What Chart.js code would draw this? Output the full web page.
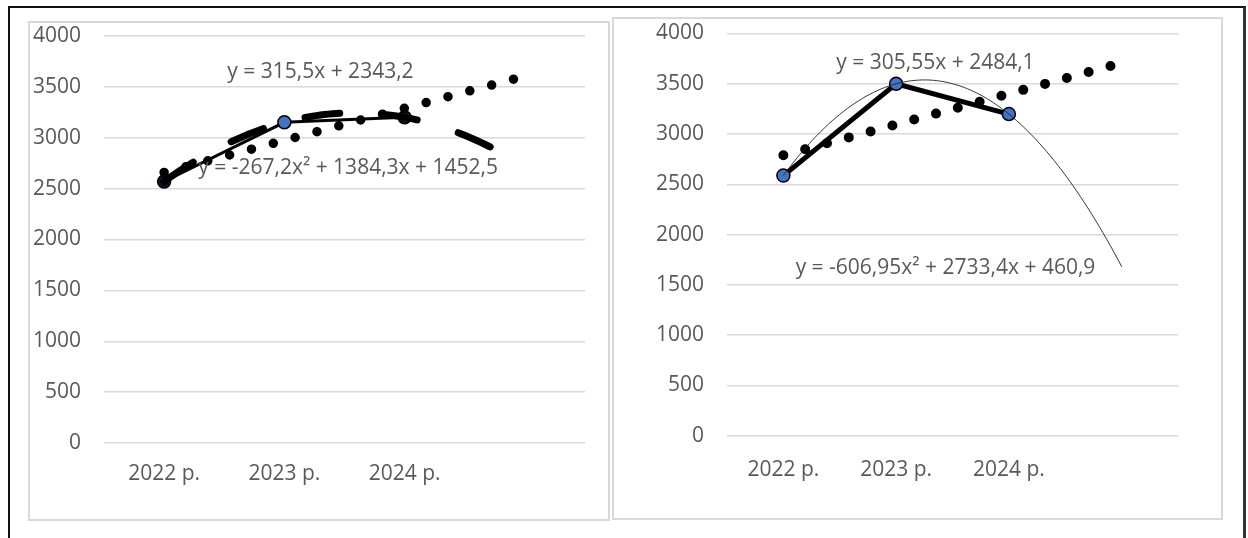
<!DOCTYPE html>
<html>
<head>
<meta charset="utf-8">
<script src="https://cdn.jsdelivr.net/npm/chart.js@4/dist/chart.umd.min.js"></script>
<style>
html,body{margin:0;padding:0;background:#fff;width:1248px;height:538px;overflow:hidden;}
#outer{position:absolute;left:8px;top:6px;width:1238px;height:560px;border-left:2px solid #111;border-top:2px solid #111;border-right:3px solid #333;box-sizing:border-box;}
.frame{position:absolute;border:2px solid #d9d9d9;box-sizing:border-box;}
canvas{position:absolute;}
</style>
</head>
<body>
<div id="outer"></div>
<div class="frame" style="left:28px;top:21px;width:582px;height:500px"></div>
<div class="frame" style="left:612px;top:17px;width:611px;height:503px"></div>
<canvas id="c1" width="580" height="498" style="left:29px;top:22px"></canvas>
<canvas id="c2" width="609" height="501" style="left:613px;top:18px"></canvas>
<script>
// ---- data ----
const categories = ['2022 р.', '2023 р.', '2024 р.'];
const yTicks = [0, 500, 1000, 1500, 2000, 2500, 3000, 3500, 4000];

const leftValues  = [2570, 3152, 3201];
const rightValues = [2587, 3500, 3199];

// trendline coefficients, as printed on the charts
const leftLinear  = [315.5, 2343.2];            // slope, intercept
const leftQuad    = [-267.2, 1384.3, 1452.5];   // a, b, c
const rightLinear = [305.55, 2484.1];
const rightQuad   = [-606.95, 2733.4, 460.9];

const leftLinearText  = 'y = 315,5x + 2343,2';
const leftQuadText    = 'y = -267,2x² + 1384,3x + 1452,5';
const rightLinearText = 'y = 305,55x + 2484,1';
const rightQuadText   = 'y = -606,95x² + 2733,4x + 460,9';

const forecastTo = 4;   // trendlines forecast one period forward

// ---- helpers ----
function poly(coefs, x) { return coefs.reduce((acc, c) => acc * x + c, 0); }
function trendPoints(coefs, from, to, n) {
  const pts = [];
  for (let i = 0; i <= n; i++) {
    const x = from + (to - from) * i / n;
    pts.push({ x: x, y: poly(coefs, x) });
  }
  return pts;
}
function seriesPoints(values) { return values.map((v, i) => ({ x: i + 1, y: v })); }

Chart.defaults.font.family = "'Open Sans', sans-serif";
Chart.defaults.color = '#595959';

const labelPlugin = {
  id: 'eqLabels',
  afterDatasetsDraw(chart, args, opts) {
    const ctx = chart.ctx, xs = chart.scales.x, ys = chart.scales.y;
    ctx.save();
    ctx.font = "21px 'Open Sans', sans-serif";
    ctx.fillStyle = '#595959';
    ctx.textAlign = 'center';
    ctx.textBaseline = 'middle';
    (opts.items || []).forEach(it => {
      ctx.fillText(it.text, xs.getPixelForValue(it.x), ys.getPixelForValue(it.y));
    });
    ctx.restore();
  }
};

function makeChart(id, cfg) {
  return new Chart(document.getElementById(id), {
    type: 'line',
    data: {
      datasets: [
        {
          label: 'quad',
          data: trendPoints(cfg.quad, 1, forecastTo, 90),
          borderColor: cfg.quadColor,
          borderWidth: cfg.quadWidth,
          borderDash: cfg.quadDash,
          borderCapStyle: 'round',
          pointRadius: 0,
          tension: 0,
          order: 0
        },
        {
          label: 'linear',
          data: trendPoints(cfg.linear, 1, forecastTo, 1),
          borderColor: '#000',
          borderWidth: cfg.dotSize,
          borderDash: [0, 22.6],
          borderCapStyle: 'round',
          pointRadius: 0,
          order: 1
        },
        {
          label: 'values',
          data: seriesPoints(cfg.values),
          borderColor: '#000',
          borderWidth: cfg.mainWidth,
          pointRadius: 6.5,
          pointBorderWidth: 1.5,
          pointBorderColor: '#000',
          pointBackgroundColor: cfg.pointColors,
          tension: 0,
          order: 2
        }
      ]
    },
    options: {
      responsive: false,
      animation: false,
      devicePixelRatio: 1,
      layout: { padding: cfg.padding },
      plugins: {
        legend: { display: false },
        tooltip: { enabled: false },
        eqLabels: { items: cfg.labels }
      },
      scales: {
        x: {
          type: 'linear', min: 0.5, max: 4.5,
          grid: { display: false }, border: { display: false },
          afterBuildTicks: s => { s.ticks = categories.map((c, i) => ({ value: i + 1 })); },
          ticks: {
            callback: v => categories[v - 1] || '',
            font: { size: 21 }, color: '#595959',
            padding: cfg.xPad, maxRotation: 0, autoSkip: false
          },
          afterFit: s => { s.height = cfg.xHeight; s.paddingLeft = 0; s.paddingRight = 0; }
        },
        y: {
          min: 0, max: 4000,
          afterBuildTicks: s => { s.ticks = yTicks.map(v => ({ value: v })); },
          grid: { color: '#d9d9d9', lineWidth: 1.5, drawTicks: false },
          border: { display: false },
          ticks: { font: { size: 21 }, color: '#595959', padding: 23, callback: v => String(v) },
          afterFit: s => { s.width = cfg.yWidth; s.paddingTop = 0; s.paddingBottom = 0; }
        }
      }
    },
    plugins: [labelPlugin]
  });
}

makeChart('c1', {
  values: leftValues, linear: leftLinear, quad: leftQuad,
  quadWidth: 7, quadDash: [35, 43], quadColor: '#000', dotSize: 9.5, mainWidth: 3,
  pointColors: ['#0d1526', '#4472C4', '#0d1526'],
  padding: { top: 14, right: 24, left: 0, bottom: 0 },
  yWidth: 75, xHeight: 77, xPad: 10,
  labels: [
    { text: leftLinearText, x: 2.30, y: 3646 },
    { text: leftQuadText, x: 2.53, y: 2703 }
  ]
});

makeChart('c2', {
  values: rightValues, linear: rightLinear, quad: rightQuad,
  quadWidth: 0.9, quadDash: [], quadColor: '#222', dotSize: 10, mainWidth: 5,
  pointColors: '#4472C4',
  padding: { top: 15.5, right: 44, left: 0, bottom: 0 },
  yWidth: 114, xHeight: 83.3, xPad: 14,
  labels: [
    { text: rightLinearText, x: 2.349, y: 3708 },
    { text: rightQuadText, x: 2.438, y: 1669 }
  ]
});
</script>
</body>
</html>
